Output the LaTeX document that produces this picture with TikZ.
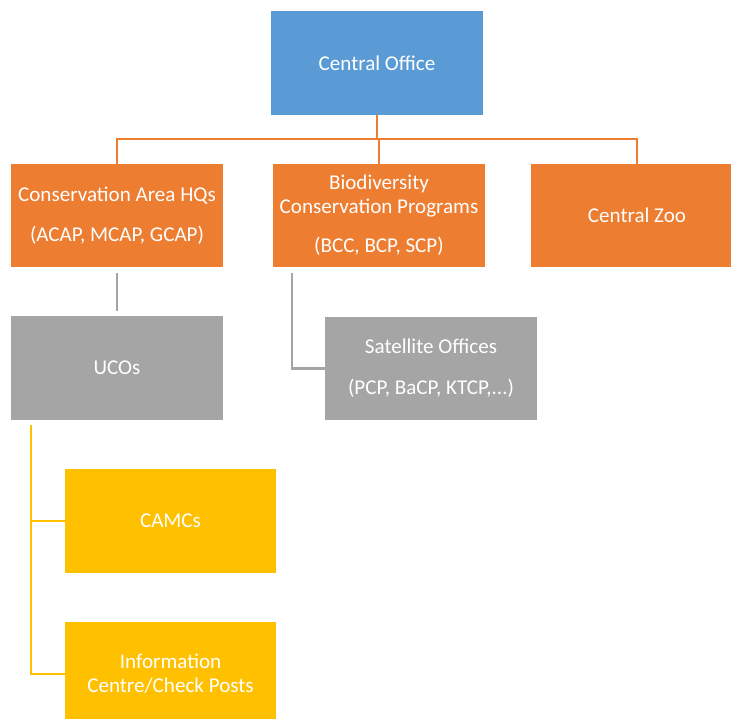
\documentclass[tikz,border=0pt]{standalone}
\usepackage{fontspec}
\setmainfont{Carlito}
\usetikzlibrary{positioning}

\definecolor{azul}{HTML}{5B9BD5}
\definecolor{laranja}{HTML}{ED7D31}
\definecolor{cinza}{HTML}{A5A5A5}
\definecolor{amarelo}{HTML}{FFC000}

\tikzset{
	caixa/.style={rectangle, inner sep=0pt, outer sep=0pt, minimum width=4.24cm, minimum height=2.08cm,
		text=white, align=center, font=\fontsize{12}{13.5}\selectfont},
	liga/.style={line width=1.6pt}
}

\begin{document}
\begin{tikzpicture}[x=0.02cm, y=-0.02cm]
				
				\useasboundingbox (0,0) rectangle (731,719);
				\clip (0,0) rectangle (731,719);
				
				% Caixas
				\node[caixa, fill=azul] (co) at (377,63) {Central Office};
				
				\node[caixa, fill=laranja] (cah) at (117,215.5) {Conservation Area HQs\\[9pt](ACAP, MCAP, GCAP)};
				\node[caixa, fill=laranja] (bcp) at (379,215.5) {Biodiversity\\Conservation Programs\\[9pt](BCC, BCP, SCP)};
				\node[caixa, fill=laranja] (cz) at (637,215.5) {Central Zoo};
				
				\node[caixa, fill=cinza] (uco) at (117,368) {UCOs};
				\node[caixa, fill=cinza] (sat) at (431,368.5) {Satellite Offices\\[10pt](PCP, BaCP, KTCP,...)};
				
				\node[caixa, fill=amarelo] (camc) at (170.5,521) {CAMCs};
				\node[caixa, fill=amarelo] (info) at (170.5,674) {Information\\Centre/Check Posts};
				
				% Ligacoes
				\coordinate (bus) at (377,139);
				\coordinate (bcpstem) at (292,268);
				\coordinate (ucostem) at (31,420);
				
				\draw[liga, laranja] (co.south) -- (bus);
				\draw[liga, laranja] (cah.north) |- (bus) -| (cz.north);
				\draw[liga, laranja] (bcp.north) -- (bcp.north |- bus);
				
				\draw[liga, cinza, shorten <=3pt, shorten >=3pt] (cah.south) -- (uco.north);
				\draw[liga, cinza, shorten <=3pt] (bcpstem) |- (sat.west);
				
				\draw[liga, amarelo, shorten <=3pt] (ucostem) |- (camc.west);
				\draw[liga, amarelo, shorten <=3pt] (ucostem) |- (info.west);
				
\end{tikzpicture}
\end{document}
